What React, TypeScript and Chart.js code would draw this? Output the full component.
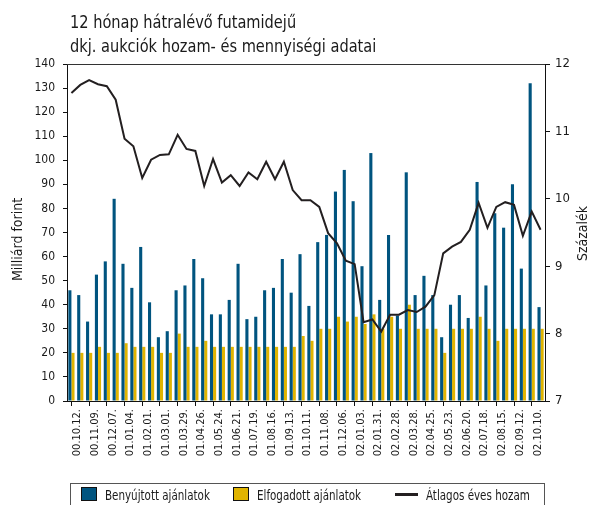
import React, { useEffect, useRef } from "react";
import { Chart, registerables } from "chart.js";

Chart.register(...registerables);

const FONT = "'Liberation Sans Narrow', 'DejaVu Sans Condensed', 'Liberation Sans', sans-serif";

const titleLines = ["12 hónap hátralévő futamidejű", "dkj. aukciók hozam- és mennyiségi adatai"];
const leftAxisTitle = "Milliárd forint";
const rightAxisTitle = "Százalék";

const tickLabels = [
  "00.10.12.", "00.11.09.", "00.12.07.", "01.01.04.", "01.02.01.", "01.03.01.", "01.03.29.",
  "01.04.26.", "01.05.24.", "01.06.21.", "01.07.19.", "01.08.16.", "01.09.13.", "01.10.11.",
  "01.11.08.", "01.12.06.", "02.01.03.", "02.01.31.", "02.02.28.", "02.03.28.", "02.04.25.",
  "02.05.23.", "02.06.20.", "02.07.18.", "02.08.15.", "02.09.12.", "02.10.10.",
];

const submitted = [
  46, 44, 33, 52.5, 58, 84, 57, 47, 64, 41, 26.5, 29, 46, 48, 59, 51, 36, 36, 42, 57,
  34, 35, 46, 47, 59, 45, 61, 39.5, 66, 69, 87, 96, 83, 56, 103, 42, 69, 35.5, 95, 44,
  52, 44, 26.5, 40, 44, 34.5, 91, 48, 78, 72, 90, 55, 132, 39,
];

const accepted = [
  20, 20, 20, 22.5, 20, 20, 24, 22.5, 22.5, 22.5, 20, 20, 28, 22.5, 22.5, 25, 22.5, 22.5, 22.5, 22.5,
  22.5, 22.5, 22.5, 22.5, 22.5, 22.5, 27, 25, 30, 30, 35, 33, 35, 32, 36, 30, 35, 30, 40, 30,
  30, 30, 20, 30, 30, 30, 35, 30, 25, 30, 30, 30, 30, 30,
];

const avgYield = [
  11.57, 11.69, 11.76, 11.7, 11.67, 11.47, 10.89, 10.78, 10.31, 10.58, 10.65, 10.66, 10.95, 10.74,
  10.71, 10.19, 10.59, 10.24, 10.35, 10.19, 10.39, 10.29, 10.55, 10.29, 10.55, 10.13, 9.98, 9.98,
  9.88, 9.49, 9.34, 9.08, 9.03, 8.17, 8.21, 8.03, 8.28, 8.28, 8.35, 8.32, 8.4, 8.57, 9.19, 9.29,
  9.36, 9.54, 9.94, 9.57, 9.88, 9.95, 9.91, 9.45, 9.81, 9.54,
];

const seriesNames = ["Benyújtott ajánlatok", "Elfogadott ajánlatok", "Átlagos éves hozam"];

const BLUE = "#00547f";
const YELLOW = "#e0b400";
const LINE = "#231f20";

function drawNarrow(ctx: CanvasRenderingContext2D, text: string, x: number, y: number, sx: number) {
  ctx.save();
  ctx.translate(x, y);
  ctx.scale(sx, 1);
  ctx.fillText(text, 0, 0);
  ctx.restore();
}

const decorPlugin = {
  id: "decor",
  afterDraw(chart: any) {
    const { ctx, chartArea } = chart;
    ctx.save();
    // top frame line
    ctx.strokeStyle = "#333";
    ctx.lineWidth = 1;
    ctx.beginPath();
    ctx.moveTo(chartArea.left, Math.round(chartArea.top) + 0.5);
    ctx.lineTo(chartArea.right, Math.round(chartArea.top) + 0.5);
    ctx.stroke();

    // title
    ctx.fillStyle = "#1a1a1a";
    ctx.font = `18px ${FONT}`;
    ctx.textAlign = "left";
    ctx.textBaseline = "alphabetic";
    titleLines.forEach((t, i) => drawNarrow(ctx, t, chartArea.left + 3, 28 + i * 24, 0.9));

    // axis titles (both reading bottom-to-top)
    ctx.font = `14px ${FONT}`;
    ctx.textAlign = "center";
    ctx.textBaseline = "middle";
    const midY = (chartArea.top + chartArea.bottom) / 2;
    ctx.save();
    ctx.translate(18, midY + 7);
    ctx.rotate(-Math.PI / 2);
    ctx.fillText(leftAxisTitle, 0, 0);
    ctx.restore();
    ctx.save();
    ctx.translate(583, midY + 1);
    ctx.rotate(-Math.PI / 2);
    ctx.fillText(rightAxisTitle, 0, 0);
    ctx.restore();

    // legend box
    ctx.strokeStyle = "#555";
    ctx.lineWidth = 1;
    ctx.strokeRect(70.5, 483.5, 474, 30);
    ctx.font = `14px ${FONT}`;
    ctx.textAlign = "left";
    ctx.textBaseline = "alphabetic";
    const ds = chart.data.datasets;
    const sx = 0.82;
    // item 1
    ctx.fillStyle = ds[0].backgroundColor;
    ctx.fillRect(81, 487, 15, 13);
    ctx.strokeStyle = "#111";
    ctx.strokeRect(81.5, 487.5, 15, 13);
    ctx.fillStyle = "#1a1a1a";
    drawNarrow(ctx, ds[0].label, 105, 500, sx);
    // item 2
    ctx.fillStyle = ds[1].backgroundColor;
    ctx.fillRect(233, 487, 15, 13);
    ctx.strokeRect(233.5, 487.5, 15, 13);
    ctx.fillStyle = "#1a1a1a";
    drawNarrow(ctx, ds[1].label, 257, 500, sx);
    // item 3
    ctx.strokeStyle = ds[2].borderColor;
    ctx.lineWidth = 3;
    ctx.beginPath();
    ctx.moveTo(395, 494.5);
    ctx.lineTo(418, 494.5);
    ctx.stroke();
    drawNarrow(ctx, ds[2].label, 426, 500, sx);
    ctx.restore();
  },
};

export default function App() {
  const ref = useRef<HTMLCanvasElement | null>(null);

  useEffect(() => {
    if (!ref.current) return;
    const labels = submitted.map((_, i) => (i % 2 === 0 ? tickLabels[i / 2] ?? "" : ""));
    const chart = new Chart(ref.current, {
      type: "bar",
      data: {
        labels,
        datasets: [
          {
            type: "bar",
            label: seriesNames[0],
            data: submitted,
            backgroundColor: BLUE,
            yAxisID: "y",
            categoryPercentage: 0.7,
            barPercentage: 1.0,
            order: 2,
          },
          {
            type: "bar",
            label: seriesNames[1],
            data: accepted,
            backgroundColor: YELLOW,
            yAxisID: "y",
            categoryPercentage: 0.7,
            barPercentage: 1.0,
            order: 2,
          },
          {
            type: "line",
            label: seriesNames[2],
            data: avgYield,
            borderColor: LINE,
            backgroundColor: LINE,
            borderWidth: 2,
            pointRadius: 0,
            tension: 0,
            yAxisID: "y1",
            order: 0,
          } as any,
        ],
      },
      options: {
        animation: false,
        responsive: false,
        devicePixelRatio: 1,
        layout: { padding: { top: 64, left: 0, right: 0, bottom: 0 } },
        plugins: {
          legend: { display: false },
          title: { display: false },
          tooltip: { enabled: false },
        },
        scales: {
          x: {
            grid: {
              drawOnChartArea: false,
              drawTicks: true,
              tickLength: 5,
              offset: false,
              color: (c: any) => (c.index % 2 === 0 ? "#111" : "rgba(0,0,0,0)"),
            },
            border: { color: "#111", width: 1 },
            ticks: {
              autoSkip: false,
              maxRotation: 90,
              minRotation: 90,
              labelOffset: 6,
              padding: 3,
              color: "#1a1a1a",
              font: { family: FONT, size: 11 },
            },
            afterFit: (s: any) => {
              s.height = 104;
            },
          },
          y: {
            position: "left",
            min: 0,
            max: 140,
            ticks: {
              stepSize: 10,
              padding: 8,
              color: "#1a1a1a",
              font: { family: FONT, size: 12 },
            },
            grid: { drawOnChartArea: false, tickLength: 4, color: "#111" },
            border: { color: "#111", width: 1 },
            afterFit: (s: any) => {
              s.width = 67;
            },
          },
          y1: {
            position: "right",
            min: 7,
            max: 12,
            ticks: {
              stepSize: 1,
              padding: 5,
              color: "#1a1a1a",
              font: { family: FONT, size: 13 },
            },
            grid: { drawOnChartArea: false, tickLength: 5, color: "#111" },
            border: { color: "#111", width: 1 },
            afterFit: (s: any) => {
              s.width = 47;
            },
          },
        },
      },
      plugins: [decorPlugin],
    });
    return () => chart.destroy();
  }, []);

  return (
    <div style={{ position: "fixed", left: 0, top: 0, width: 592, height: 505, background: "#fff" }}>
      <canvas ref={ref} width={592} height={505} style={{ display: "block" }} />
    </div>
  );
}
